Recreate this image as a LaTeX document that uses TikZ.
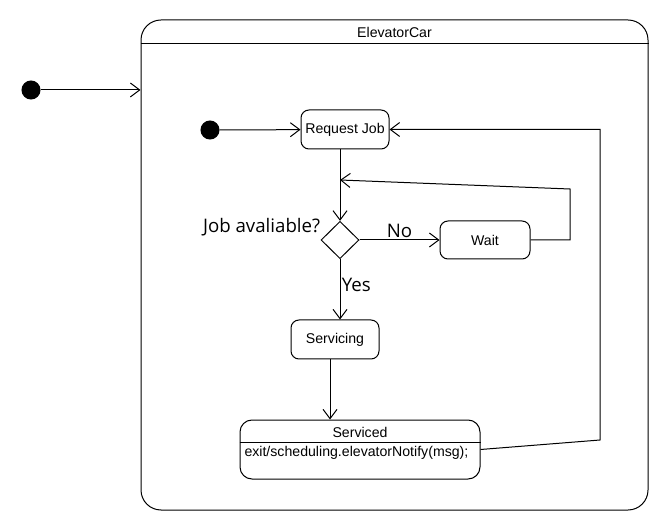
\documentclass[tikz,border=0pt]{standalone}
\usepackage{fontspec}
\setmainfont{Liberation Sans}
\newfontfamily\guardfont{Open Sans}
\usetikzlibrary{arrows.meta,shapes.geometric}
\begin{document}
\begin{tikzpicture}[x=0.75pt,y=-0.75pt,line width=0.75pt,
  statebox/.style={draw,rounded corners=6pt,inner sep=0pt,font=\fontsize{10.6}{12}\selectfont},
  initdot/.style={circle,fill=black,draw=black,minimum size=13.5pt,inner sep=0pt},
  tr/.style={-{Straight Barb[length=7pt,width=10.5pt,line width=0.75pt]}},
  guard/.style={font=\guardfont\fontsize{14}{16}\selectfont,inner sep=1pt},
  txt/.style={inner sep=0pt,font=\fontsize{10.6}{12}\selectfont}]
\useasboundingbox (0,0) rectangle (670,530);
% container
\node[draw,rounded corners=15pt,minimum width=380.25pt,minimum height=367.5pt,inner sep=0pt] (car) at (394.5,265) {};
\draw ([yshift=-18pt]car.north west) -- ([yshift=-18pt]car.north east);
\node[txt] (cartitle) at (394.5,32) {ElevatorCar};
% outer initial
\node[initdot] (init1) at (31,90) {};
\draw[tr] (init1) -- (init1 -| car.west);
% inner nodes
\node[initdot] (init2) at (210,130) {};
\node[statebox,minimum width=66pt,minimum height=29.25pt] (req) at (345,129.5) {Request Job};
\node[draw,diamond,minimum width=28.5pt,minimum height=28pt,inner sep=0pt] (dec) at (340,240) {};
\node[statebox,minimum width=67.5pt,minimum height=28.5pt] (wait) at (485,240) {Wait};
\node[statebox,minimum width=66pt,minimum height=29.25pt] (serv) at (335,339.5) {Servicing};
\node[draw,rounded corners=9pt,minimum width=180pt,minimum height=44.25pt,inner sep=0pt] (done) at (360,449.5) {};
\draw ([yshift=-17.25pt]done.north west) -- ([yshift=-17.25pt]done.north east);
\node[txt] (donetitle) at (360,432) {Serviced};
\node[txt,anchor=west] (doneexit) at (244,453) {exit/scheduling.elevatorNotify(msg);};
\node[guard,anchor=base east] (q) at (322,233) {Job avaliable?};
% connectors
\draw[tr] (init2) -- (req);
\coordinate (merge) at (dec.north |- 0,180);
\draw[tr] (dec.north |- req.south) -- (dec.north);
\draw[tr] (wait.east) -- (570,240) -- (570,189) -- (merge);
\draw[tr] (dec.east) -- node[guard,above] {No} (wait.west);
\draw[tr] (dec.south) -- node[guard,right,pos=0.42] {Yes} (dec.south |- serv.north);
\draw[tr] ([xshift=-3.75pt]serv.south) coordinate (s1) -- (s1 |- done.north);
\draw[tr] (done.east) -- (600,440) -- (600,129.5) -- (req.east);
\end{tikzpicture}
\end{document}
